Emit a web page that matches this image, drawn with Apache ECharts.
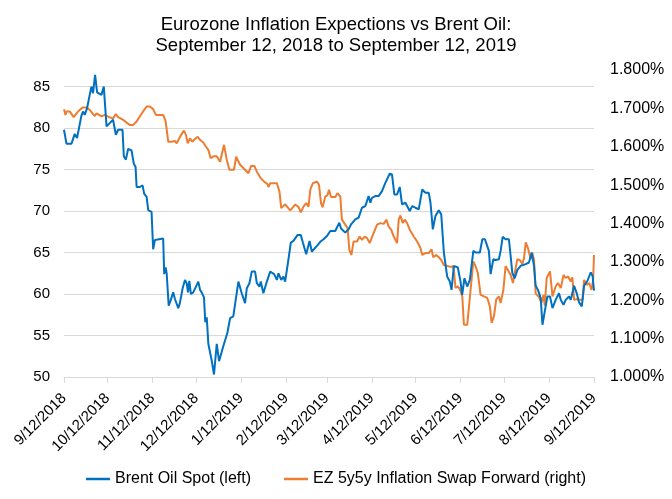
<!DOCTYPE html>
<html lang="en">
<head>
    <meta charset="UTF-8">
    <title>Eurozone Inflation Expections vs Brent Oil</title>
    <script src="https://cdn.jsdelivr.net/npm/echarts@6/dist/echarts.min.js"></script>
    <style>
        html, body { margin: 0; padding: 0; background: #fff; }
        #chart { width: 672px; height: 499px; }
    </style>
</head>
<body>
<div id="chart"></div>
<script>
    // days counted from 9/12/2018
    var tickDays = [0, 30, 61, 91, 122, 153, 181, 212, 242, 273, 303, 334, 365];
    var tickLabels = ['9/12/2018', '10/12/2018', '11/12/2018', '12/12/2018', '1/12/2019', '2/12/2019',
        '3/12/2019', '4/12/2019', '5/12/2019', '6/12/2019', '7/12/2019', '8/12/2019', '9/12/2019'];

    // Brent oil spot (left axis, $)
    var brentDays = [0, 1.7, 5.1, 7.4, 9, 12, 13.1, 14.3, 15.9, 17.7, 18.9, 20, 21.4, 22.8, 25.8, 27.4,
        29.3, 31.5, 33.8, 35.7, 37.3, 40.3, 41.2, 42.6, 44.2, 46.5, 48.1, 49.3, 50, 52.2, 54.1, 55.2,
        56.9, 58, 60.3, 61.4, 62.6, 63.8, 68.3, 69, 70, 70.7, 72.1, 73.4, 75.2, 76.4, 77.6, 78.7, 79.8,
        81.7, 83.3, 84.5, 85.4, 86.3, 87.4, 89, 90.2, 92.5, 93.7, 94.8, 96.4, 97.3, 98.3, 99.4, 101.7,
        103.3, 105.2, 106.8, 107.9, 109.7, 112.5, 114.4, 116.6, 117.8, 120.1, 122.4, 124.7, 125.9,
        127.7, 129.3, 131.6, 132.8, 134.6, 135.5, 137.3, 139.7, 142, 144.7, 146.6, 147.7, 149.6, 151.1,
        152.3, 154.6, 156.2, 158, 160.8, 163.1, 164.5, 166.8, 169.1, 170.7, 174.2, 176.5, 178.7, 181.1,
        183.4, 186.8, 189.6, 190.8, 193.7, 196, 197.7, 200.6, 202.9, 205.2, 207.5, 209.8, 211, 212.1,
        214.4, 216.7, 219, 221.3, 224.3, 225.9, 227.5, 229.4, 231.2, 232.8, 235.1, 236.3, 238.1, 239.8,
        242, 244.3, 246.7, 248.9, 251.2, 252.4, 254, 255.8, 258.1, 259.8, 261.6, 263.9, 265.7, 266.9,
        268.5, 269.6, 271.2, 273.1, 274.2, 275.8, 277.7, 279.5, 281.9, 283.4, 286.4, 288.1, 289.9,
        292.6, 293.8, 295.7, 297.2, 299.5, 300.7, 302.1, 304.1, 306.4, 308.8, 310.4, 312.2, 314.5,
        318, 320.2, 322.1, 323.7, 324.8, 326.4, 328.3, 329.5, 331.1, 332.9, 334.7, 336.4, 338.6, 340.9,
        342.1, 344, 345.5, 347.8, 349, 351.3, 352.9, 354.7, 356.6, 358.2, 360.5, 362.8, 364, 365];
    var brentPrices = [79.8, 78.1, 78.1, 79.3, 78.8, 81.5, 82, 81.6, 82.4, 84, 85, 84.2, 86.4, 84.3, 84, 85,
        80.2, 80.6, 81, 79.2, 79.8, 79.8, 76.6, 76.2, 77.5, 77.3, 75.7, 75.3, 72.9, 72.9, 73.1, 72.1,
        71.7, 70.1, 69.9, 65.4, 66.5, 66.7, 66.7, 62.4, 63.2, 62.5, 58.6, 59.2, 60.2, 59.4, 59.5, 58.3, 58.9,
        60.7, 61.7, 61.3, 60.2, 61.6, 60, 60.2, 60, 61.5, 60.5, 60.2, 59.6, 56.6, 57.2, 54, 52,
        50.3, 54, 51.9, 52.1, 53.7, 55.3, 57.1, 57.3, 57.3, 61.5, 60.1, 58.9, 60.7,
        61.3, 62.7, 62.7, 61.3, 60.9, 61.5, 60.1, 61.5, 62.7, 62.4, 61.7, 62.5, 61.7, 62.1,
        61.5, 64.2, 66.2, 66.4, 67.1, 67.1, 66.2, 64.8, 66.4, 65.1, 65.8, 66.3, 66.6, 67,
        67.6, 67.6, 68.6, 67.9, 67.4, 67.8, 68.4, 69, 69.2, 70.4, 70.6, 71.8, 71, 71.6,
        71.8, 71.8, 72.4, 73.4, 74.5, 74.4, 72, 72, 72.9, 70.8, 71, 70.6, 70, 70.6,
        70.4, 70.2, 72.6, 72.2, 72.2, 71, 67.8, 69.4, 70.1, 69.6, 65, 62.1, 61.5, 60.5,
        63.4, 63.4, 63.2, 61.5, 59.9, 61.9, 60.9, 61.7, 65.2, 65, 65, 66.6, 66.6,
        65.2, 62.4, 64.2, 64.1, 64.2, 65.2, 66.9, 66.6, 66.6, 62.5, 61.9, 62.9, 63.4,
        63.6, 63.8, 65, 63.4, 61, 60.5, 59.5, 56.3, 57.9, 59.7, 59.7, 58.3, 59.3, 60.1,
        59.3, 58.7, 59.3, 59.7, 59.3, 61, 60.2, 59, 58.5, 61, 61.6, 62.6, 62.2, 60.4];

    // EZ 5y5y inflation swap forward (right axis, %)
    var swapDays = [0, 1, 1.7, 3.9, 5.1, 6.7, 8.6, 10.8, 12.7, 15.9, 17.7, 19.6, 21.2, 22.4, 24.2, 25.8,
        28.1, 29.3, 31.1, 33.8, 35.7, 37.3, 38.9, 40.7, 43.1, 45.3, 47.6, 50, 52.2, 54.5, 56.9, 59.1,
        61.4, 63.3, 66, 68.3, 70, 71.8, 74.1, 76.4, 77.6, 79.4, 81, 82.6, 84, 85.2, 86.8, 88.3, 90.2,
        92.1, 93.7, 95.9, 97.8, 99.4, 101, 102.8, 105.2, 107.5, 110.2, 112.1, 113.9, 117.1, 118.5,
        119.4, 121.3, 124.7, 127, 128.9, 131.1, 132.8, 135.5, 137.8, 140.1, 140.8, 142, 146.6, 148.4,
        149.6, 152.3, 155.8, 159.2, 161.5, 163.1, 164.9, 166.8, 168.4, 169.6, 171.4, 174.2, 175.6,
        177, 178.1, 179.9, 181.5, 182.5, 183.9, 186.8, 188.4, 190.3, 191.4, 193, 195.3, 196.5, 197.9,
        199.4, 201.8, 203.6, 205.2, 207, 208.7, 210.5, 212.8, 215.6, 217.9, 220.2, 222, 223.6, 225.3,
        227.1, 229.4, 230.5, 231.7, 233.3, 234.6, 236.3, 238.1, 240.9, 243.2, 245.5, 246.7, 248.9,
        251.2, 253.1, 254.3, 256.3, 258.1, 259.8, 261.6, 263.9, 266.2, 267.8, 268.5, 269.6, 271.2,
        272.6, 274.3, 275.4, 277.7, 278.8, 280, 281.9, 283.4, 285, 286.9, 289.2, 291.5, 293.3, 294.5,
        296.1, 297.7, 299.5, 300.7, 302.6, 304.1, 305.7, 307.6, 309.2, 310.6, 312.2, 313.8, 315.7,
        316.8, 318, 319.5, 321.4, 322.6, 323.7, 324.8, 327.1, 328.8, 330.2, 331.1, 332.4, 334.7, 336.4,
        338.6, 340.2, 342.1, 344, 345.5, 347.1, 349, 350.1, 351.3, 353.6, 355.4, 357.1, 358.2, 359.9,
        361.7, 363.3, 364.4, 365];
    var swapRates = [1.698, 1.683, 1.692, 1.692, 1.689, 1.677, 1.687, 1.696, 1.702, 1.702, 1.696, 1.687, 1.68, 1.687, 1.683, 1.679,
        1.683, 1.683, 1.677, 1.674, 1.685, 1.677, 1.674, 1.67, 1.663, 1.657, 1.657, 1.666, 1.679, 1.692, 1.705, 1.705,
        1.698, 1.683, 1.683, 1.683, 1.666, 1.613, 1.613, 1.615, 1.609, 1.622, 1.633, 1.642, 1.631, 1.609, 1.622, 1.613, 1.62,
        1.626, 1.618, 1.611, 1.6, 1.592, 1.57, 1.575, 1.575, 1.561, 1.605, 1.566, 1.54, 1.54, 1.574,
        1.579, 1.553, 1.54, 1.531, 1.55, 1.55, 1.535, 1.518, 1.509, 1.503, 1.495, 1.505, 1.505, 1.483,
        1.44, 1.45, 1.434, 1.449, 1.443, 1.429, 1.444, 1.453, 1.444, 1.488, 1.505, 1.509, 1.501,
        1.453, 1.442, 1.47, 1.474, 1.488, 1.469, 1.469, 1.479, 1.47, 1.41, 1.401, 1.388, 1.331, 1.318,
        1.353, 1.353, 1.366, 1.357, 1.366, 1.362, 1.349, 1.371, 1.397, 1.401, 1.399, 1.41, 1.392, 1.384,
        1.366, 1.349, 1.41, 1.421, 1.401, 1.41, 1.401, 1.384, 1.366, 1.353, 1.336, 1.318, 1.323,
        1.323, 1.333, 1.312, 1.318, 1.312, 1.305, 1.292, 1.289, 1.287, 1.289, 1.279, 1.232, 1.236,
        1.229, 1.21, 1.136, 1.136, 1.141, 1.227, 1.301, 1.289, 1.271, 1.214, 1.21, 1.206, 1.184, 1.141,
        1.158, 1.203, 1.21, 1.193, 1.227, 1.289, 1.279, 1.266, 1.245, 1.275, 1.307, 1.305, 1.295,
        1.31, 1.351, 1.336, 1.307, 1.323, 1.305, 1.218, 1.208, 1.193, 1.214, 1.186, 1.258, 1.275, 1.21,
        1.236, 1.245, 1.232, 1.266, 1.258, 1.262, 1.249, 1.26, 1.201, 1.203, 1.201, 1.201, 1.253, 1.24,
        1.245, 1.227, 1.253, 1.318];

    function pairs(xs, ys) {
        return xs.map(function (x, i) { return [x, ys[i]]; });
    }

    var font = 'Liberation Sans, Arial, sans-serif';
    var option = {
        animation: false,
        title: {
            text: 'Eurozone Inflation Expections vs Brent Oil:\nSeptember 12, 2018 to September 12, 2019',
            left: 'center',
            top: 9,
            textStyle: { color: '#000', fontSize: 18.5, fontWeight: 'normal', fontFamily: font, lineHeight: 21 }
        },
        legend: {
            bottom: 7,
            left: 'center',
            icon: 'rect',
            itemWidth: 24,
            itemHeight: 2.5,
            itemGap: 33,
            textStyle: { color: '#000', fontSize: 16, fontFamily: font },
            data: ['Brent Oil Spot (left)', 'EZ 5y5y Inflation Swap Forward (right)']
        },
        grid: { left: 64, right: 78, top: 70, bottom: 122, containLabel: false },
        xAxis: {
            type: 'value',
            min: 0,
            max: 365,
            axisLine: { lineStyle: { color: '#d9d9d9', width: 1 } },
            axisTick: { show: true, customValues: tickDays, length: 6, lineStyle: { color: '#d9d9d9' } },
            axisLabel: {
                customValues: tickDays,
                rotate: 45,
                margin: 19,
                color: '#000',
                fontSize: 15,
                fontFamily: font,
                formatter: function (v) {
                    var i = tickDays.indexOf(v);
                    return i >= 0 ? tickLabels[i] : '';
                }
            },
            splitLine: { show: false }
        },
        yAxis: [{
            type: 'value',
            min: 50,
            max: 87,
            interval: 5,
            axisLine: { show: false },
            axisTick: { show: false },
            axisLabel: {
                color: '#000', fontSize: 15, fontFamily: font, margin: 14, showMaxLabel: false,
                formatter: function (v) { return v % 5 === 0 ? v : ''; }
            },
            splitLine: { showMaxLine: false, lineStyle: { color: '#d9d9d9', width: 1 } }
        }, {
            type: 'value',
            min: 1.0,
            max: 1.8,
            interval: 0.1,
            axisLine: { show: false },
            axisTick: { show: false },
            axisLabel: {
                color: '#000', fontSize: 16, fontFamily: font, margin: 16,
                formatter: function (v) { return v.toFixed(3) + '%'; }
            },
            splitLine: { show: false }
        }],
        series: [{
            name: 'Brent Oil Spot (left)',
            type: 'line',
            yAxisIndex: 0,
            symbol: 'none',
            lineStyle: { color: '#0070C0', width: 2 },
            itemStyle: { color: '#0070C0' },
            data: pairs(brentDays, brentPrices),
            z: 3
        }, {
            name: 'EZ 5y5y Inflation Swap Forward (right)',
            type: 'line',
            yAxisIndex: 1,
            symbol: 'none',
            lineStyle: { color: '#ED7D31', width: 2 },
            itemStyle: { color: '#ED7D31' },
            data: pairs(swapDays, swapRates),
            z: 2
        }]
    };

    var myChart = echarts.init(document.getElementById('chart'));
    myChart.setOption(option);
</script>
</body>
</html>
